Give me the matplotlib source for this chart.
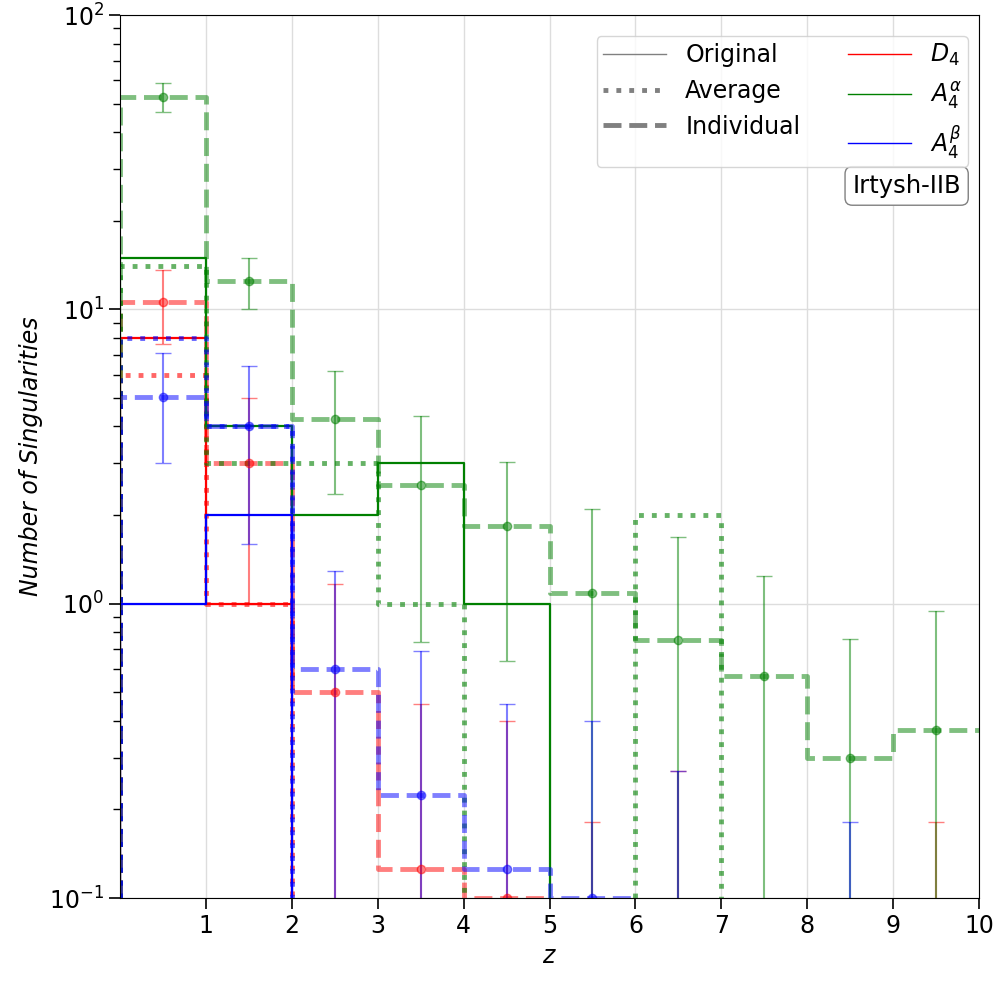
import numpy as np
import matplotlib
matplotlib.use('Agg')
import matplotlib.pyplot as plt
from matplotlib.lines import Line2D

# bin edges in z
edges = np.arange(0, 11)
centers = edges[:-1] + 0.5

# original counts
orig_d4 = [8, 1, 0, 0, 0, 0, 0, 0, 0, 0]
orig_a4a = [15, 4, 2, 3, 1, 0, 0, 0, 0, 0]
orig_a4b = [1, 2, 0, 0, 0, 0, 0, 0, 0, 0]

# average counts
avg_d4 = [6, 1, 0, 0, 0, 0, 0, 0, 0, 0]
avg_a4a = [14, 3, 3, 1, 0, 0, 2, 0, 0, 0]
avg_a4b = [8, 4, 0, 0, 0, 0, 0, 0, 0, 0]

# individual (mean and error)
ind_d4 = [10.6, 3.0, 0.5, 0.125, 0.1, 0.025, 0.05, 0, 0, 0.025]
err_d4 = [3.0, 2.0, 0.67, 0.33, 0.3, 0.156, 0.22, 0, 0, 0.156]
ind_a4a = [52.8, 12.5, 4.25, 2.54, 1.84, 1.09, 0.75, 0.57, 0.30, 0.373]
err_a4a = [6.0, 2.5, 1.9, 1.8, 1.2, 1.01, 0.93, 0.67, 0.46, 0.57]
ind_a4b = [5.05, 4.0, 0.6, 0.223, 0.125, 0.1, 0.05, 0, 0.025, 0]
err_a4b = [2.05, 2.4, 0.69, 0.47, 0.33, 0.3, 0.22, 0, 0.156, 0]

series = [
    ('$D_4$', 'red', orig_d4, avg_d4, ind_d4, err_d4),
    (r'$A_4^\alpha$', 'green', orig_a4a, avg_a4a, ind_a4a, err_a4a),
    (r'$A_4^\beta$', 'blue', orig_a4b, avg_a4b, ind_a4b, err_a4b),
]


def draw_steps(ax, vals, **kw):
    # rise from zero at the first edge, no drop at the last one
    xs = np.r_[edges[0], edges]
    ys = np.r_[0, vals, vals[-1]]
    ax.step(xs, ys, where='post', **kw)


fig = plt.figure(figsize=(10, 10), dpi=100)
ax = fig.add_axes([0.12, 0.102, 0.859, 0.883])
ax.set_yscale('log')

for label, c, orig, avg, ind, err in series:
    draw_steps(ax, orig, color=c, lw=1.6)
    draw_steps(ax, avg, color=c, lw=3.5, ls=':', alpha=0.6)
    draw_steps(ax, ind, color=c, lw=3.5, ls='--', alpha=0.5)
    ax.errorbar(centers, ind, yerr=err, fmt='o', color=c, alpha=0.5,
                ms=6, capsize=6, elinewidth=1.5)

ax.set_xlim(0, 10)
ax.set_ylim(0.1, 100)
ax.set_xticks(range(1, 11))
ax.grid(True, which='major', color='#dddddd', lw=1)
ax.set_axisbelow(True)
ax.tick_params(axis='both', which='major', labelsize=17, length=8, width=1.2)
ax.tick_params(axis='y', which='minor', length=5, width=1)
ax.set_xlabel('$z$', fontsize=17)
ax.set_ylabel('Number of Singularities', fontsize=17, style='italic')

handles = [
    Line2D([], [], color='gray', lw=1),
    Line2D([], [], color='gray', lw=3.5, ls=':'),
    Line2D([], [], color='gray', lw=3.5, ls='--'),
    Line2D([], [], color='red', lw=1),
    Line2D([], [], color='green', lw=1),
    Line2D([], [], color='blue', lw=1),
]
labels = ['Original', 'Average', 'Individual', '$D_4$', r'$A_4^\alpha$', r'$A_4^\beta$']
ax.legend(handles, labels, ncol=2, loc='upper right', fontsize=17,
          handlelength=2.7, labelspacing=0.5, borderpad=0.25,
          bbox_to_anchor=(0.987, 0.976), borderaxespad=0)

ax.text(0.979, 0.82, 'Irtysh-IIB', transform=ax.transAxes, ha='right', va='top',
        fontsize=17.5, bbox=dict(boxstyle='round,pad=0.3', fc='white', ec='gray'))

fig.savefig('out.png', dpi=100)
